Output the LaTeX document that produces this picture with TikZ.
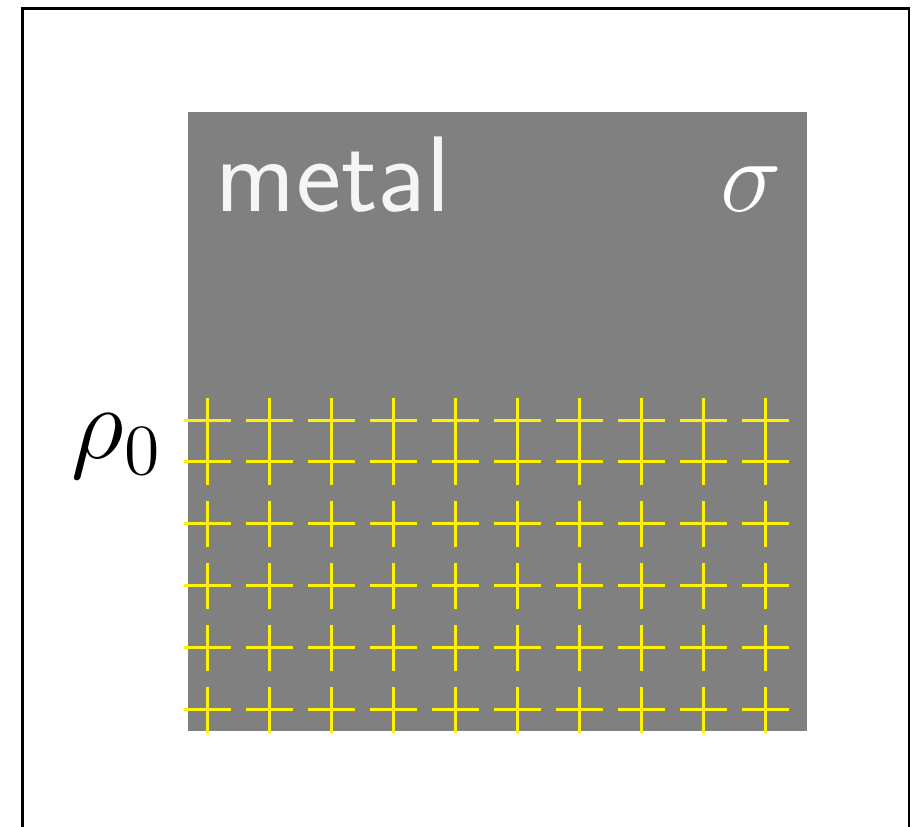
\documentclass[tikz,border=0pt]{standalone}
\usepackage{amsmath,amssymb}
\begin{document}
\begin{tikzpicture}[x=0.2pt,y=-0.2pt,every node/.style={inner sep=0pt,font=\fontsize{21.5}{25}\selectfont},ion/.style={draw=yellow,line width=0.6pt}]
\useasboundingbox (0,0) rectangle (913,827);
\clip (0,0) rectangle (913,827);
\draw[line width=0.5pt] (22.5,8.5) rectangle (909,860);
\fill[black!50] (188,112) rectangle (807,731);
\node[anchor=base west,text=gray!8,font=\fontsize{21.5}{25}\selectfont\sffamily] (metal) at (215,212) {metal};
\node[anchor=base east,text=white] (sigma) at (783,212) {$\sigma$};
\node[anchor=base east] (rho) at (163,459) {$\rho_0$};
\foreach \i in {0,...,9}{
  \foreach \j in {421,462,524,586,648,710}{
    \draw[ion] (208+62*\i-23.5,\j) -- (208+62*\i+23.5,\j);
    \draw[ion] (208+62*\i,\j-23) -- (208+62*\i,\j+23);
  }
}
\end{tikzpicture}
\end{document}
